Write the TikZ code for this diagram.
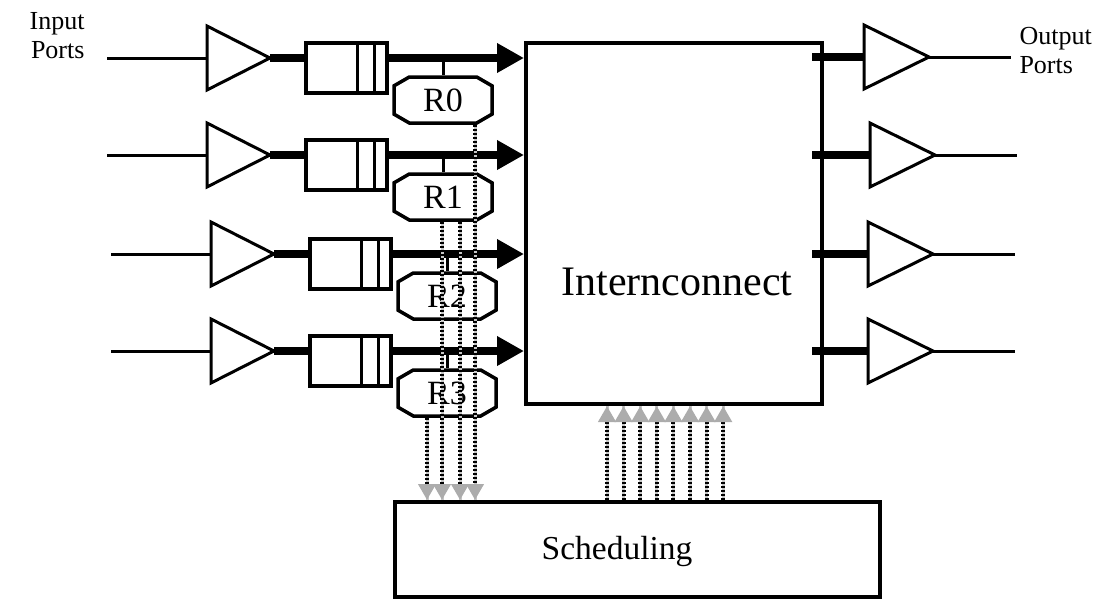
\documentclass[tikz,border=0pt]{standalone}
\usepackage{fontspec}
\setmainfont{Liberation Serif}
\usetikzlibrary{arrows.meta,shapes.misc}

\begin{document}
\begin{tikzpicture}[x=1pt,y=-1pt,line width=3pt,
  box/.style={draw,rectangle,line width=4pt,inner sep=0pt},
  queue/.style={draw,rectangle,line width=3.5pt,minimum width=81pt,
                minimum height=50pt,inner sep=0pt},
  req/.style={draw,chamfered rectangle,chamfered rectangle angle=60,
              chamfered rectangle xsep=10pt,minimum width=98pt,
              minimum height=46pt,inner sep=0pt,line width=3.5pt,
              font=\fontsize{34}{34}\selectfont},
  bus/.style={line width=8pt},
  busarrow/.style={bus,-{Triangle[length=27pt,width=28pt]}},
  ctl/.style={line width=4pt,dash pattern=on 2pt off 2pt,
              preaction={draw,gray!45,solid,arrows=-},
              -{Triangle[length=16pt,width=17pt,color=gray!65,fill=gray!65]}},
  port/.style={font=\fontsize{26}{29}\selectfont,inner sep=0pt}]
  \useasboundingbox (0,0) rectangle (1111,600);
  % interconnect and scheduler blocks
  \node[box,minimum width=296pt,minimum height=361pt] (ic) at (674,223.5) {};
  \node[font=\fontsize{42}{42}\selectfont] (ictext) at (677,282) {Internconnect};
  \node[box,minimum width=485pt,minimum height=95pt] (sched) at (637.5,549.5) {};
  \node[font=\fontsize{33.5}{34}\selectfont] (schedtext) at (617,551) {Scheduling};
  % input side: buffer, queue and request unit for each port
  \foreach \i/\y/\dx in {0/58/0,1/155/0,2/254/4,3/351/4}{
    \coordinate (in\i) at (107+\dx,\y);
    \coordinate (ba\i) at (207+\dx,\y);
    \coordinate (bt\i) at (270+\dx,\y);
    \draw (in\i) -- (ba\i);
    \draw (207+\dx,\y-32) -- (bt\i) -- (207+\dx,\y+32) -- cycle;
    \node[queue] (q\i) at (346.5+\dx,\y+10) {};
    \draw ([xshift=-31pt]q\i.north east) -- ([xshift=-31pt]q\i.south east);
    \draw ([xshift=-14pt]q\i.north east) -- ([xshift=-14pt]q\i.south east);
    \draw[bus] (bt\i) -- (bt\i -| q\i.west);
    \draw[busarrow] (bt\i -| q\i.east) -- (bt\i -| ic.west);
    \node[req] (r\i) at (443+\dx,\y+42) {R\i};
    \draw (bt\i -| r\i.north) -- (r\i.north);
  }
  % requests down to the scheduler
  \foreach \r/\s in {0/32,1/17,1/-1,3/-20}
    \draw[ctl] ([xshift=\s pt]r\r.south) -- ([xshift=\s pt]r\r.south |- sched.north);
  % grants up to the interconnect
  \foreach \k in {0,...,7}{
    \coordinate (g\k) at (607+16.6*\k,0);
    \draw[ctl] (g\k |- sched.north) -- (g\k |- ic.south);
  }
  % output side
  \foreach \i/\y/\dx in {0/57/0,1/155/6,2/254/4,3/351/4}{
    \coordinate (oa\i) at (864+\dx,\y);
    \coordinate (ot\i) at (929+\dx,\y);
    \coordinate (out\i) at (1011+\dx,\y);
    \draw[bus] ([xshift=-12pt]ic.east |- oa\i) -- (oa\i);
    \draw (864+\dx,\y-32) -- (ot\i) -- (864+\dx,\y+32) -- cycle;
    \draw (ot\i) -- (out\i);
  }
  \node[port,align=right,anchor=east] (inlbl) at (86,36) {Input\\Ports};
  \node[port,align=left,anchor=west] (outlbl) at (1018,51) {Output\\Ports};
\end{tikzpicture}
\end{document}
